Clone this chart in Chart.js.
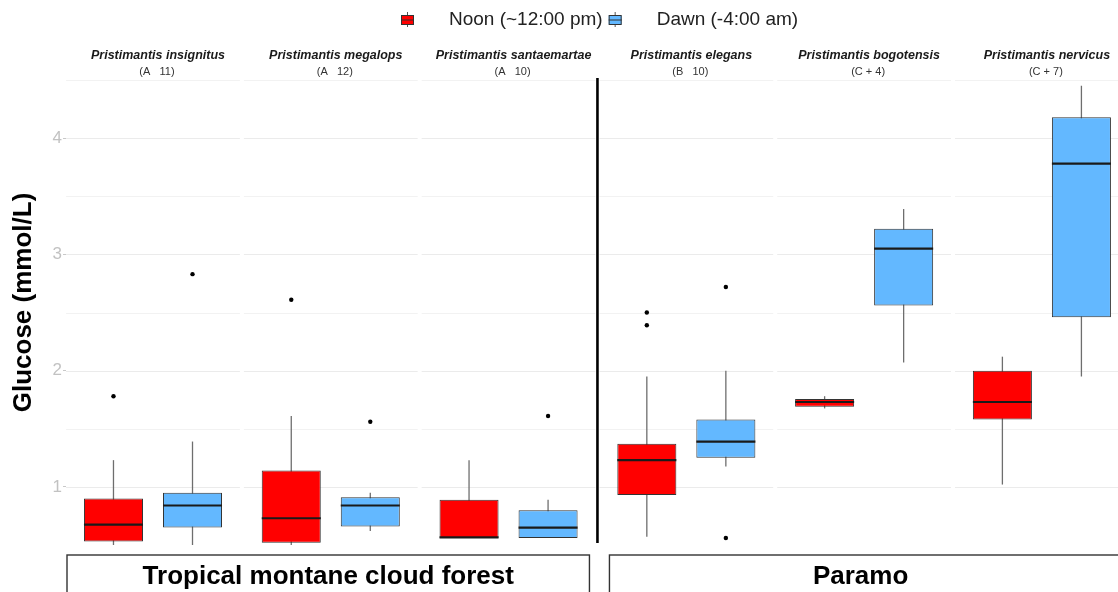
<!DOCTYPE html>
<html lang="en">
<head>
    <meta charset="UTF-8">
    <title>Glucose by species</title>
    <script src="https://cdn.jsdelivr.net/npm/chart.js"></script>
    <style>
        html, body { margin: 0; padding: 0; background: #fff; overflow: hidden; }
        .chart-box { width: 1118px; height: 592px; position: relative; }
    </style>
</head>
<body>
    <div class="chart-box">
        <canvas id="glucoseChart"></canvas>
    </div>
    <script>
        // species (one facet each) and the letter groups printed under the names
        const species = ['Pristimantis insignitus', 'Pristimantis megalops', 'Pristimantis santaemartae',
                         'Pristimantis elegans', 'Pristimantis bogotensis', 'Pristimantis nervicus'];
        const groups = ['(A   11)', '(A   12)', '(A   10)', '(B   10)', '(C + 4)', '(C + 7)'];
        const habitats = ['Tropical montane cloud forest', 'Paramo'];
        const habitatSpan = [[0, 3], [3, 6]];   // which facets belong to each habitat

        const seriesNames = ['Noon (~12:00 pm)', 'Dawn (-4:00 am)'];
        const seriesColors = ['#ff0000', '#63b8ff'];

        // Noon box plot stats
        const noonLow  = [0.50, 0.50, 0.56, 0.57, 1.675, 1.02];
        const noonQ1   = [0.53, 0.52, 0.56, 0.93, 1.69, 1.58];
        const noonMed  = [0.675, 0.73, 0.565, 1.23, 1.73, 1.73];
        const noonQ3   = [0.90, 1.14, 0.89, 1.37, 1.755, 2.00];
        const noonHigh = [1.23, 1.61, 1.23, 1.95, 1.78, 2.12];
        const noonOut  = [[1.78], [2.61], [], [2.39, 2.50], [], []];

        // Dawn box plot stats
        const dawnLow  = [0.45, 0.62, 0.56, 1.175, 2.07, 1.95];
        const dawnQ1   = [0.65, 0.66, 0.56, 1.25, 2.56, 2.46];
        const dawnMed  = [0.84, 0.84, 0.65, 1.39, 3.05, 3.78];
        const dawnQ3   = [0.95, 0.91, 0.80, 1.58, 3.22, 4.18];
        const dawnHigh = [1.39, 0.95, 0.89, 2.00, 3.39, 4.45];
        const dawnOut  = [[2.83], [1.56], [1.61], [0.56, 2.72], [], []];

        const yTicks = [1, 2, 3, 4];
        const yMinor = [0.5, 1.5, 2.5, 3.5, 4.5];
        const yTitle = 'Glucose (mmol/L)';

        const stats = [
            { low: noonLow, med: noonMed, high: noonHigh, out: noonOut },
            { low: dawnLow, med: dawnMed, high: dawnHigh, out: dawnOut }
        ];
        const boxes = [[noonQ1, noonQ3], [dawnQ1, dawnQ3]];

        Chart.defaults.font.family = "'Liberation Sans', Arial, sans-serif";

        const facetPlugin = {
            id: 'facets',
            beforeDatasetsDraw(chart) {
                const { ctx, chartArea: a, scales: { x, y } } = chart;
                ctx.save();
                ctx.beginPath();
                ctx.rect(a.left, a.top, a.right - a.left, a.bottom - a.top);
                ctx.clip();
                // panel grid lines, broken between facets
                species.forEach((s, i) => {
                    const x0 = x.getPixelForValue(i) + 2;
                    const x1 = x.getPixelForValue(i + 1) - 2;
                    ctx.lineWidth = 1;
                    yMinor.forEach(v => {
                        ctx.strokeStyle = '#f2f2f2';
                        ctx.beginPath();
                        ctx.moveTo(x0, Math.round(y.getPixelForValue(v)) + 0.5);
                        ctx.lineTo(x1, Math.round(y.getPixelForValue(v)) + 0.5);
                        ctx.stroke();
                    });
                    yTicks.forEach(v => {
                        ctx.strokeStyle = '#ebebeb';
                        ctx.beginPath();
                        ctx.moveTo(x0, Math.round(y.getPixelForValue(v)) + 0.5);
                        ctx.lineTo(x1, Math.round(y.getPixelForValue(v)) + 0.5);
                        ctx.stroke();
                    });
                });
                // whiskers behind the boxes
                stats.forEach((st, d) => {
                    chart.getDatasetMeta(d).data.forEach((el, i) => {
                        ctx.strokeStyle = '#6e6e6e';
                        ctx.lineWidth = 1.3;
                        ctx.beginPath();
                        ctx.moveTo(el.x, y.getPixelForValue(st.low[i]));
                        ctx.lineTo(el.x, y.getPixelForValue(st.high[i]));
                        ctx.stroke();
                    });
                });
                ctx.restore();
            },
            afterDatasetsDraw(chart) {
                const { ctx, chartArea: a, scales: { x, y } } = chart;
                ctx.save();
                ctx.beginPath();
                ctx.rect(a.left, a.top - 3, a.right - a.left, a.bottom - a.top + 3);
                ctx.clip();
                stats.forEach((st, d) => {
                    chart.getDatasetMeta(d).data.forEach((el, i) => {
                        // median
                        ctx.strokeStyle = '#1a1a1a';
                        ctx.lineWidth = 2.2;
                        ctx.beginPath();
                        ctx.moveTo(el.x - el.width / 2, y.getPixelForValue(st.med[i]));
                        ctx.lineTo(el.x + el.width / 2, y.getPixelForValue(st.med[i]));
                        ctx.stroke();
                        // outliers
                        ctx.fillStyle = '#000';
                        st.out[i].forEach(v => {
                            ctx.beginPath();
                            ctx.arc(el.x, y.getPixelForValue(v), 2.2, 0, Math.PI * 2);
                            ctx.fill();
                        });
                    });
                });
                // separator between habitats
                const sx = x.getPixelForValue(habitatSpan[1][0]);
                ctx.strokeStyle = '#000';
                ctx.lineWidth = 2.6;
                ctx.beginPath();
                ctx.moveTo(sx, a.top - 2);
                ctx.lineTo(sx, a.bottom - 2);
                ctx.stroke();
                ctx.restore();
            },
            afterDraw(chart) {
                const { ctx, chartArea: a, scales: { x } } = chart;
                ctx.save();
                ctx.textAlign = 'center';
                ctx.textBaseline = 'middle';
                // y axis title
                ctx.save();
                ctx.translate(24, (a.top + a.bottom) / 2 - 10);
                ctx.rotate(-Math.PI / 2);
                ctx.fillStyle = '#000';
                ctx.font = "bold 26px 'Liberation Sans', Arial, sans-serif";
                ctx.fillText(yTitle, 0, 0);
                ctx.restore();
                // facet strips on top
                species.forEach((s, i) => {
                    const cx = x.getPixelForValue(i + 0.5);
                    ctx.fillStyle = '#1a1a1a';
                    ctx.font = "italic bold 12.5px 'Liberation Sans', Arial, sans-serif";
                    ctx.fillText(s, cx + 5, 56);
                    ctx.fillStyle = '#333';
                    ctx.font = "11px 'Liberation Sans', Arial, sans-serif";
                    ctx.fillText(groups[i], cx + 4, 72);
                });
                // habitat strips below
                habitats.forEach((h, k) => {
                    const x0 = k === 0 ? a.left + 1 : x.getPixelForValue(habitatSpan[k][0]) + 12;
                    const x1 = k === 0 ? x.getPixelForValue(habitatSpan[k][1]) - 8 : x.getPixelForValue(habitatSpan[k][1]) - 3;
                    ctx.strokeStyle = '#333';
                    ctx.lineWidth = 1.4;
                    ctx.strokeRect(x0, a.bottom + 10, x1 - x0, 60);
                    ctx.fillStyle = '#000';
                    ctx.font = "bold 26px 'Liberation Sans', Arial, sans-serif";
                    ctx.fillText(h, (x0 + x1) / 2 - (k === 1 ? 8 : 0), a.bottom + 32);
                });
                // legend
                let lx = 401;
                const ly = 20;
                ctx.textAlign = 'left';
                seriesNames.forEach((name, d) => {
                    ctx.strokeStyle = '#555';
                    ctx.lineWidth = 1;
                    ctx.beginPath();
                    ctx.moveTo(lx + 6.5, ly - 8);
                    ctx.lineTo(lx + 6.5, ly + 7);
                    ctx.stroke();
                    ctx.fillStyle = seriesColors[d];
                    ctx.fillRect(lx, ly - 4.5, 13, 9);
                    ctx.strokeStyle = '#333';
                    ctx.strokeRect(lx + 0.5, ly - 4.5, 12, 9);
                    ctx.beginPath();
                    ctx.moveTo(lx, ly);
                    ctx.lineTo(lx + 13, ly);
                    ctx.stroke();
                    ctx.fillStyle = '#222';
                    ctx.font = "19px 'Liberation Sans', Arial, sans-serif";
                    ctx.fillText(name, lx + 48, ly);
                    lx += 48 + ctx.measureText(name).width + 6;
                });
                ctx.restore();
            }
        };

        new Chart(document.getElementById('glucoseChart'), {
            type: 'bar',
            data: {
                datasets: seriesNames.map((name, d) => ({
                    label: name,
                    data: species.map((s, i) => ({ x: i + 0.5, y: [boxes[d][0][i], boxes[d][1][i]] })),
                    backgroundColor: seriesColors[d],
                    borderColor: '#333333',
                    borderWidth: 1,
                    borderSkipped: false,
                    categoryPercentage: 0.889,
                    barPercentage: 0.747
                }))
            },
            options: {
                responsive: true,
                maintainAspectRatio: false,
                animation: false,
                layout: { padding: { top: 80, bottom: 47, left: 0, right: 0 } },
                plugins: {
                    legend: { display: false },
                    tooltip: { enabled: false }
                },
                scales: {
                    x: {
                        type: 'linear',
                        min: 0.0107,
                        max: 5.928,
                        offset: false,
                        display: false,
                        grid: { offset: false },
                        afterBuildTicks: s => { s.ticks = species.map((n, i) => ({ value: i + 0.5 })); }
                    },
                    y: {
                        min: 0.5,
                        max: 4.5,
                        afterBuildTicks: s => { s.ticks = yTicks.map(v => ({ value: v })); },
                        afterFit: s => { s.width = 66; },
                        border: { display: false },
                        grid: { drawOnChartArea: false, drawTicks: true, tickLength: 3, tickColor: '#c8c8c8' },
                        ticks: { color: '#c2c2c2', font: { size: 17 }, padding: 1 }
                    }
                }
            },
            plugins: [facetPlugin]
        });
    </script>
</body>
</html>
